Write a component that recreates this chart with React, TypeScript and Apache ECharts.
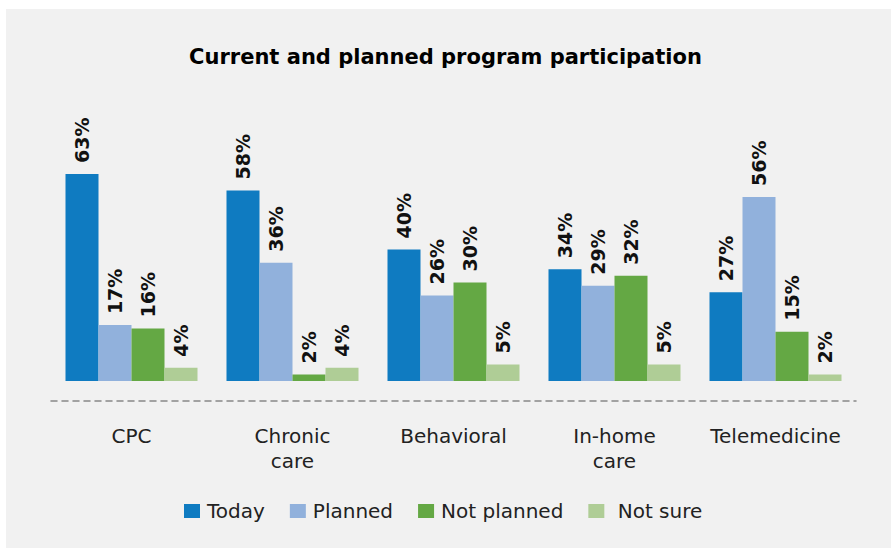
import React, { useEffect, useRef } from "react";
import * as echarts from "echarts";

const categories = ["CPC", "Chronic\ncare", "Behavioral", "In-home\ncare", "Telemedicine"];
const seriesNames = ["Today", "Planned", "Not planned", "Not sure"];
const today = [63, 58, 40, 34, 27];
const planned = [17, 36, 26, 29, 56];
const notPlanned = [16, 2, 30, 32, 15];
const notSure = [4, 4, 5, 5, 2];
const colors = ["#0f7bc1", "#91b1dc", "#64a844", "#afcd96"];

export default function App() {
  const ref = useRef<HTMLDivElement>(null);
  useEffect(() => {
    document.body.style.margin = "0";
    const chart = echarts.init(ref.current!, null, { renderer: "svg" });
    const values = [today, planned, notPlanned, notSure];
    chart.setOption({
      animation: false,
      backgroundColor: "#ffffff",
      graphic: [
        { type: "rect", z: -10, shape: { x: 6, y: 9, width: 885, height: 539 }, style: { fill: "#f1f1f1" } },
      ],
      title: {
        text: "Current and planned program participation",
        left: "center",
        top: 41,
        textStyle: { fontFamily: "DejaVu Sans", fontWeight: "bold", fontSize: 21, color: "#000" },
      },
      legend: {
        top: 501,
        left: 184,
        padding: 0,
        itemWidth: 16,
        itemHeight: 14,
        itemGap: 25,
        icon: "rect",
        textStyle: { fontFamily: "DejaVu Sans", fontSize: 20, color: "#222", padding: [0, 0, 0, 2] },
        data: seriesNames,
        formatter: (n: string) => (n === "Not sure" ? " Not sure" : n),
      },
      grid: { left: 51, right: 35, top: 151, height: 250, containLabel: false },
      xAxis: {
        type: "category",
        data: categories,
        axisLine: { show: true, onZero: false, lineStyle: { color: "#888", type: [6, 5], width: 1.5 } },
        axisTick: { show: false },
        axisLabel: {
          fontFamily: "DejaVu Sans",
          fontSize: 20,
          color: "#222",
          margin: 22,
          lineHeight: 25,
          interval: 0,
        },
      },
      yAxis: {
        type: "value",
        min: -6.1,
        max: 70,
        show: false,
        splitLine: { show: false },
      },
      series: seriesNames.map((name, i) => ({
        name,
        type: "bar",
        data: values[i],
        barWidth: 33,
        barGap: "0%",
        itemStyle: { color: colors[i] },
        label: {
          show: true,
          position: "top",
          rotate: 90,
          align: "left",
          verticalAlign: "middle",
          distance: 11,
          formatter: "{c}%",
          fontFamily: "DejaVu Sans",
          fontWeight: "bold",
          fontSize: 19,
          color: "#111",
        },
      })),
    });
    return () => chart.dispose();
  }, []);
  return <div ref={ref} style={{ width: 891, height: 548 }} />;
}
